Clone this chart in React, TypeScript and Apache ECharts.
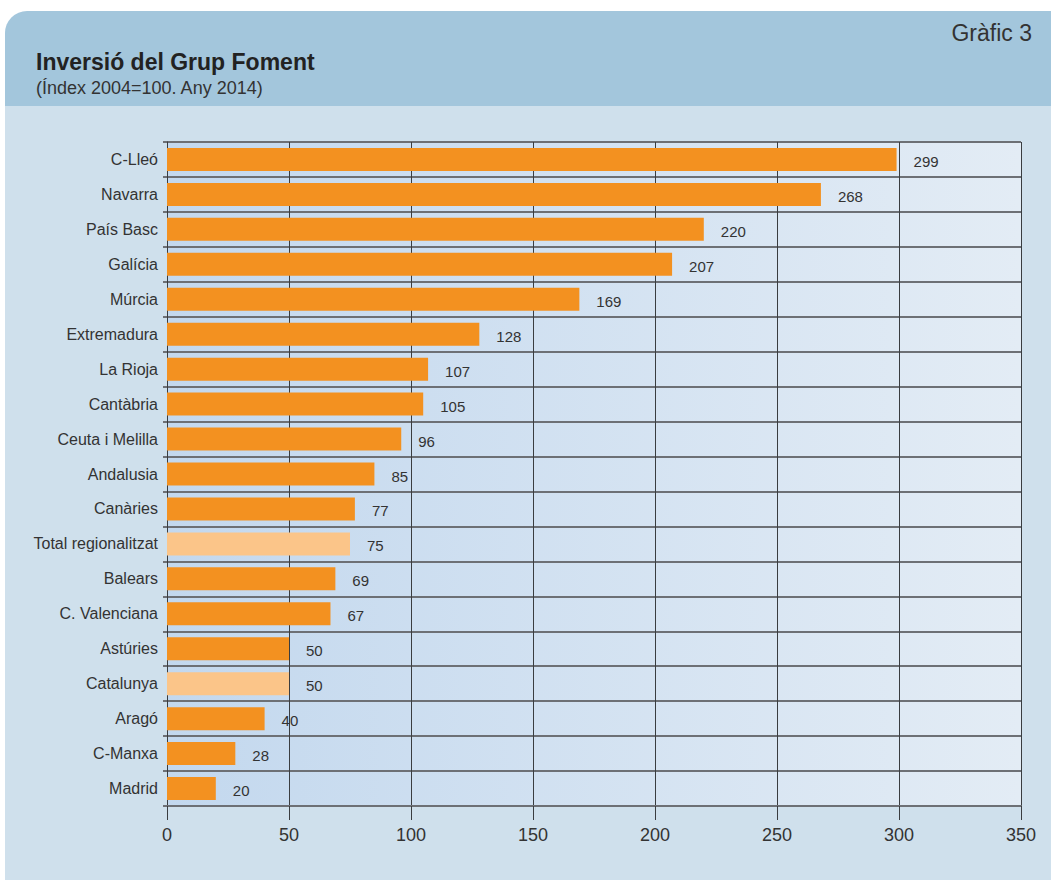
import React, { useEffect, useRef } from "react";
import * as echarts from "echarts";

const categories = [
  "C-Lleó", "Navarra", "País Basc", "Galícia", "Múrcia", "Extremadura", "La Rioja",
  "Cantàbria", "Ceuta i Melilla", "Andalusia", "Canàries", "Total regionalitzat",
  "Balears", "C. Valenciana", "Astúries", "Catalunya", "Aragó", "C-Manxa", "Madrid",
];
const values = [299, 268, 220, 207, 169, 128, 107, 105, 96, 85, 77, 75, 69, 67, 50, 50, 40, 28, 20];
const highlighted = ["Total regionalitzat", "Catalunya"];
const title = "Inversió del Grup Foment";
const subtitle = "(Índex 2004=100. Any 2014)";
const badge = "Gràfic 3";

const FONT = "'Liberation Sans', Arial, Helvetica, sans-serif";

export default function App() {
  const ref = useRef<HTMLDivElement>(null);
  useEffect(() => {
    document.body.style.margin = "0";
    const chart = echarts.init(ref.current!, null, { renderer: "svg" });
    chart.setOption({
      animation: false,
      backgroundColor: "transparent",
      textStyle: { fontFamily: FONT },
      grid: {
        left: 167, right: 30, top: 142, bottom: 76,
        show: true,
        borderWidth: 0,
        backgroundColor: new echarts.graphic.LinearGradient(0, 0, 1, 0, [
          { offset: 0, color: "#c3d8ee" },
          { offset: 1, color: "#e3ecf5" },
        ]),
      },
      xAxis: {
        type: "value",
        min: 0, max: 350, interval: 50,
        axisLine: { show: true, lineStyle: { color: "#6d7075", width: 2 } },
        axisTick: { show: true, length: 14, lineStyle: { color: "#3a3d40", width: 1 } },
        axisLabel: { color: "#333", fontSize: 18, margin: 20, fontFamily: FONT },
        splitLine: { show: true, lineStyle: { color: "#3a3d40", width: 1 } },
      },
      yAxis: {
        type: "category",
        data: categories,
        inverse: true,
        axisLine: { show: true, lineStyle: { color: "#3a3d40", width: 1 } },
        axisTick: { show: true, length: 4, lineStyle: { color: "#6d7075", width: 2 } },
        axisLabel: { color: "#333", fontSize: 16, margin: 9, fontFamily: FONT },
        splitLine: { show: true, lineStyle: { color: "#6d7075", width: 2 } },
      },
      series: [
        {
          type: "bar",
          barWidth: 23,
          data: values.map((v, i) => ({
            value: v,
            itemStyle: { color: highlighted.includes(categories[i]) ? "#fbc589" : "#f39120" },
          })),
          label: {
            show: true, position: "right", distance: 17, offset: [0, 2],
            color: "#333", fontSize: 15, fontFamily: FONT,
          },
        },
      ],
      graphic: [
        {
          type: "text", left: 36, top: 50,
          style: { text: title, fontSize: 23, fontWeight: "bold", fill: "#222", fontFamily: FONT },
        },
        {
          type: "text", left: 36, top: 79,
          style: { text: subtitle, fontSize: 18, fill: "#333", fontFamily: FONT },
        },
        {
          type: "text", right: 19, top: 21,
          style: { text: badge, fontSize: 23, fill: "#333", fontFamily: FONT },
        },
      ],
    });
    return () => chart.dispose();
  }, []);
  return (
    <div style={{ position: "fixed", left: 0, top: 0, width: 1051, height: 882, background: "#fff" }}>
      <div
        style={{
          position: "absolute", left: 5, top: 11, width: 1046, height: 869,
          background: "linear-gradient(to bottom, #a3c6dc 0px, #a3c6dc 95px, #cfe0ec 95px, #cfe0ec 100%)",
          borderTopLeftRadius: 22,
        }}
      />
      <div ref={ref} style={{ position: "absolute", left: 0, top: 0, width: 1051, height: 882 }} />
    </div>
  );
}
